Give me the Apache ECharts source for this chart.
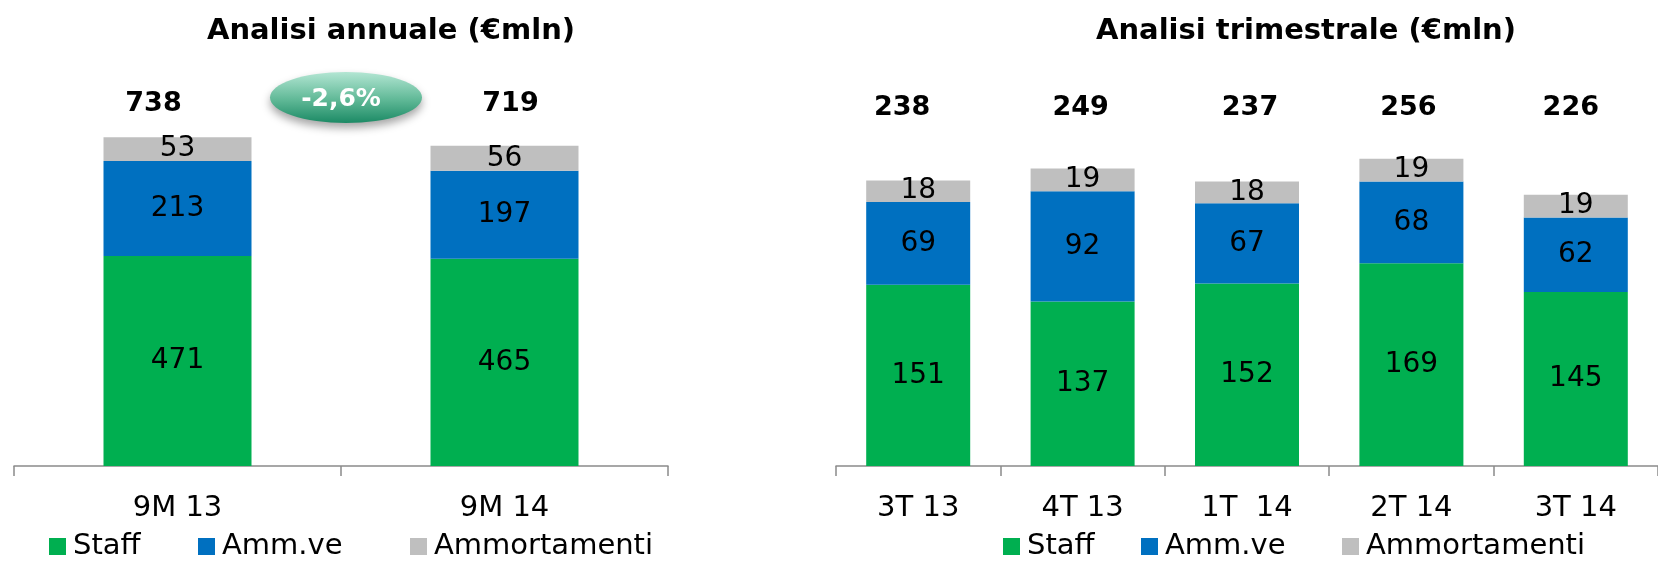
<!DOCTYPE html>
<html>
<head>
<meta charset="utf-8">
<script src="https://cdn.jsdelivr.net/npm/echarts@6/dist/echarts.min.js"></script>
<style>
  html, body { margin: 0; padding: 0; background: #ffffff; }
  #chart { width: 1658px; height: 562px; }
</style>
</head>
<body>
<div id="chart"></div>
<script>
// ---- data ----
const annualCats = ['9M 13', '9M 14'];
const annualStaff = [471, 465];
const annualAmmve = [213, 197];
const annualAmmort = [53, 56];
const annualTotals = [738, 719];
const annualChange = '-2,6%';

const quarterCats = ['3T 13', '4T 13', '1T  14', '2T 14', '3T 14'];
const quarterStaff = [151, 137, 152, 169, 145];
const quarterAmmve = [69, 92, 67, 68, 62];
const quarterAmmort = [18, 19, 18, 19, 19];
const quarterTotals = [238, 249, 237, 256, 226];

const seriesNames = ['Staff', 'Amm.ve', 'Ammortamenti'];
const titles = ['Analisi annuale (€mln)', 'Analisi trimestrale (€mln)'];

// ---- layout / style ----
const FONT = '"DejaVu Sans", sans-serif';
const COLORS = ['#00AF50', '#0070C0', '#BFBFBF'];
const AXIS_COLOR = '#8a8a8a';
// value level (in axis units) at which the total labels sit, and small horizontal nudges
const annualTotalLevel = 811;
const quarterTotalLevel = 298;
const annualTotalShift = [-24, 6];
const quarterTotalShift = [-16, -2, 3, -3, -5];

const chart = echarts.init(document.getElementById('chart'), null, { renderer: 'canvas' });

function xAxisCfg(cats, grid) {
  return {
    type: 'category', gridIndex: grid, data: cats,
    axisLine: { show: true, lineStyle: { color: AXIS_COLOR, width: 1.5 } },
    axisTick: { show: true, length: 10, lineStyle: { color: AXIS_COLOR, width: 1.5 } },
    axisLabel: { color: '#000', fontSize: 29, fontFamily: FONT, margin: 28, lineHeight: 29 },
    splitLine: { show: false }
  };
}
function yAxisCfg(grid, max) {
  return { type: 'value', gridIndex: grid, min: 0, max: max, show: false, splitLine: { show: false } };
}
function stackSeries(name, data, idx, grid, barWidth, stackId) {
  return {
    name: name, type: 'bar', stack: stackId, xAxisIndex: grid, yAxisIndex: grid,
    data: data, barWidth: barWidth,
    itemStyle: { color: COLORS[idx] },
    label: { show: true, position: 'inside', color: '#000', fontSize: 28, fontFamily: FONT },
    emphasis: { disabled: true }, silent: true
  };
}
function totalSeries(cats, totals, level, shifts, grid) {
  return {
    type: 'scatter', xAxisIndex: grid, yAxisIndex: grid, symbolSize: 1,
    itemStyle: { color: 'rgba(0,0,0,0)', opacity: 1 }, silent: true,
    data: cats.map((c, i) => ({
      value: [i, level],
      label: { offset: [shifts[i], 0] }
    })),
    label: {
      show: true, position: 'inside', color: '#000', fontSize: 27, fontWeight: 'bold', fontFamily: FONT,
      formatter: p => String(totals[p.dataIndex])
    }
  };
}
function legendCfg(name, left) {
  return {
    data: [name], left: left, top: 527, orient: 'horizontal',
    icon: 'rect', itemWidth: 17, itemHeight: 17, selectedMode: false,
    textStyle: { color: '#000', fontSize: 29, fontFamily: FONT, padding: [0, 0, 0, 2] }
  };
}

const option = {
  animation: false,
  backgroundColor: '#ffffff',
  grid: [
    { left: 14, top: 20.1, width: 654, height: 445.9 },
    { left: 836, top: 46, width: 835, height: 420 }
  ],
  xAxis: [xAxisCfg(annualCats, 0), xAxisCfg(quarterCats, 1)],
  yAxis: [yAxisCfg(0, 1000), yAxisCfg(1, 350)],
  legend: [
    legendCfg(seriesNames[0], 44), legendCfg(seriesNames[1], 193), legendCfg(seriesNames[2], 405),
    legendCfg(seriesNames[0], 998), legendCfg(seriesNames[1], 1136), legendCfg(seriesNames[2], 1337)
  ],
  series: [
    stackSeries(seriesNames[0], annualStaff, 0, 0, 148, 'annual'),
    stackSeries(seriesNames[1], annualAmmve, 1, 0, 148, 'annual'),
    stackSeries(seriesNames[2], annualAmmort, 2, 0, 148, 'annual'),
    totalSeries(annualCats, annualTotals, annualTotalLevel, annualTotalShift, 0),
    stackSeries(seriesNames[0], quarterStaff, 0, 1, 104, 'quarter'),
    stackSeries(seriesNames[1], quarterAmmve, 1, 1, 104, 'quarter'),
    stackSeries(seriesNames[2], quarterAmmort, 2, 1, 104, 'quarter'),
    totalSeries(quarterCats, quarterTotals, quarterTotalLevel, quarterTotalShift, 1)
  ],
  graphic: [
    {
      type: 'text', x: 391, y: 31, silent: true,
      style: { text: titles[0], fill: '#000', fontSize: 29, fontWeight: 'bold', fontFamily: FONT,
               align: 'center', verticalAlign: 'middle' }
    },
    {
      type: 'text', x: 1306, y: 31, silent: true,
      style: { text: titles[1], fill: '#000', fontSize: 29, fontWeight: 'bold', fontFamily: FONT,
               align: 'center', verticalAlign: 'middle' }
    },
    {
      type: 'ellipse', silent: true,
      shape: { cx: 346, cy: 97.5, rx: 76, ry: 25.5 },
      style: {
        fill: new echarts.graphic.LinearGradient(0, 0, 0, 1, [
          { offset: 0, color: '#b3e6d3' },
          { offset: 0.55, color: '#5fb896' },
          { offset: 1, color: '#1c8a65' }
        ]),
        shadowBlur: 8, shadowOffsetY: 5, shadowColor: 'rgba(0,0,0,0.35)'
      }
    },
    {
      type: 'text', x: 341, y: 99, silent: true,
      style: { text: annualChange, fill: '#ffffff', fontSize: 25, fontWeight: 'bold', fontFamily: FONT,
               align: 'center', verticalAlign: 'middle' }
    }
  ]
};

chart.setOption(option);
</script>
</body>
</html>
